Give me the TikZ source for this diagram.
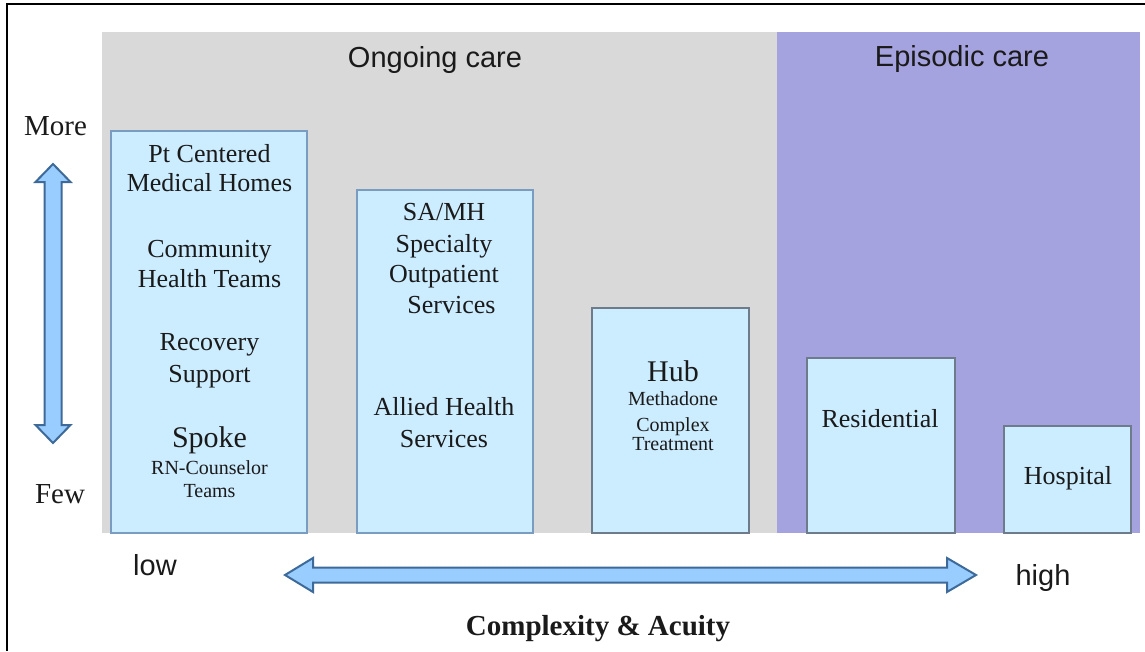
\documentclass[tikz,border=0pt]{standalone}
\usepackage{fontspec}
\setmainfont{Liberation Serif}
\setsansfont{Liberation Sans}
\definecolor{ongoingbg}{HTML}{D9D9D9}
\definecolor{episodicbg}{HTML}{A5A3DF}
\definecolor{boxfill}{HTML}{CCECFF}
\definecolor{boxlineA}{HTML}{7A9CC0}
\definecolor{boxlineB}{HTML}{6D7B8A}
\definecolor{arrowfill}{HTML}{99CCFF}
\definecolor{arrowline}{HTML}{3D6A99}
\definecolor{txtcol}{HTML}{1A1A1A}
\begin{document}
\begin{tikzpicture}[x=1pt,y=-1pt,
  region/.style={draw=none,inner sep=0pt,outer sep=0pt,anchor=north west},
  cbox/.style={fill=boxfill,line width=1.3pt,inner sep=0pt,outer sep=0pt,anchor=north west},
  tnorm/.style={anchor=base,inner sep=0pt,text=txtcol,font=\fontsize{26pt}{29pt}\selectfont},
  tbig/.style={anchor=base,inner sep=0pt,text=txtcol,font=\fontsize{30pt}{33pt}\selectfont},
  tsmall/.style={anchor=base,inner sep=0pt,text=txtcol,font=\fontsize{20pt}{22pt}\selectfont},
  tlabel/.style={anchor=base,inner sep=0pt,text=txtcol,font=\fontsize{29pt}{32pt}\selectfont},
  tsans/.style={anchor=base,inner sep=0pt,text=txtcol,font=\sffamily\fontsize{29pt}{32pt}\selectfont},
  fatarrow/.style={fill=arrowfill,draw=arrowline,line width=2pt,line join=miter}
]
\useasboundingbox (0,0) rectangle (1145,651);
\fill[white] (0,0) rectangle (1145,651);

% frame
\draw[line width=2pt] (7,651) -- (7,3.5) -- (1145,3.5);

% regions
\node[region,fill=ongoingbg,minimum width=675pt,minimum height=501pt] (ongoing) at (102,32) {};
\node[region,fill=episodicbg,minimum width=363pt,minimum height=501pt] (episodic) at (777,32) {};
\node[tsans] (ongoingT) at (435,67) {Ongoing care};
\node[tsans] (episodicT) at (962,66) {Episodic care};

% boxes
\node[cbox,draw=boxlineA,minimum width=196pt,minimum height=402pt] (b1) at (111,131) {};
\node[cbox,draw=boxlineA,minimum width=176pt,minimum height=343pt] (b2) at (357,190) {};
\node[cbox,draw=boxlineB,minimum width=157pt,minimum height=225pt] (b3) at (592,308) {};
\node[cbox,draw=boxlineB,minimum width=148pt,minimum height=175pt] (b4) at (807,358) {};
\node[cbox,draw=boxlineB,minimum width=127pt,minimum height=107pt] (b5) at (1004,426) {};

% box 1 texts
\node[tnorm] (t1a) at (209.5,162) {Pt Centered};
\node[tnorm] (t1b) at (209.5,191) {Medical Homes};
\node[tnorm] (t1c) at (209.5,257) {Community};
\node[tnorm] (t1d) at (209.5,287) {Health Teams};
\node[tnorm] (t1e) at (209.5,350) {Recovery};
\node[tnorm] (t1f) at (209.5,382) {Support};
\node[tbig] (t1g) at (209.5,447) {Spoke};
\node[tsmall] (t1h) at (209.5,474) {RN-Counselor};
\node[tsmall] (t1i) at (209.5,497) {Teams};

% box 2 texts
\node[tnorm] (t2a) at (444,220) {SA/MH};
\node[tnorm] (t2b) at (444,252) {Specialty};
\node[tnorm] (t2c) at (444,282) {Outpatient};
\node[tnorm] (t2d) at (451.5,313) {Services};
\node[tnorm] (t2e) at (444,415) {Allied Health};
\node[tnorm] (t2f) at (444,447) {Services};

% box 3 texts
\node[tbig] (t3a) at (673,381) {Hub};
\node[tsmall] (t3b) at (673,405) {Methadone};
\node[tsmall] (t3c) at (673,431) {Complex};
\node[tsmall] (t3d) at (673,450) {Treatment};

% box 4, 5 texts
\node[tnorm] (t4) at (880,427) {Residential};
\node[tnorm] (t5) at (1068,484) {Hospital};

% axis labels
\node[tlabel] (more) at (55.5,135) {More};
\node[tlabel] (few) at (60,503) {Few};
\node[tsans] (low) at (155,575) {low};
\node[tsans] (high) at (1043,585) {high};
\node[anchor=base,inner sep=0pt,text=txtcol,font=\bfseries\fontsize{29pt}{32pt}\selectfont] (axis) at (598,635) {Complexity \& Acuity};

% vertical double arrow
\draw[fatarrow] (53,164) -- (70.5,182) -- (61.5,182) -- (61.5,425) -- (70.5,425)
  -- (53,443) -- (35.5,425) -- (44.5,425) -- (44.5,182) -- (35.5,182) -- cycle;

% horizontal double arrow
\draw[fatarrow] (285,575) -- (313,558) -- (313,567.5) -- (947,567.5) -- (947,558)
  -- (976,575) -- (947,592) -- (947,582.5) -- (313,582.5) -- (313,592) -- cycle;
\end{tikzpicture}
\end{document}
